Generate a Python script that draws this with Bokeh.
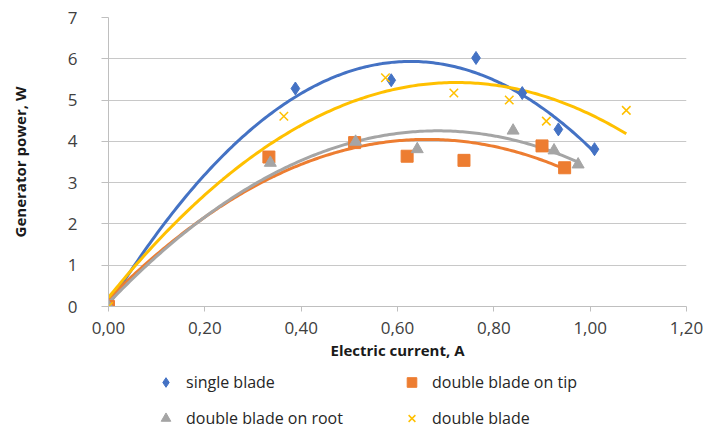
import numpy as np
from bokeh.plotting import figure
from bokeh.layouts import column
from bokeh.models import Range1d, FixedTicker, Legend, LegendItem
from bokeh.embed import file_html
from bokeh.resources import INLINE

# ---- data ----
single_x = [0.00, 0.388, 0.587, 0.763, 0.859, 0.934, 1.009]
single_y = [0.00, 5.28, 5.48, 6.02, 5.17, 4.29, 3.81]

tip_x = [0.00, 0.333, 0.511, 0.620, 0.738, 0.900, 0.947]
tip_y = [0.00, 3.62, 3.97, 3.64, 3.54, 3.89, 3.36]

root_x = [0.00, 0.336, 0.513, 0.641, 0.840, 0.925, 0.975]
root_y = [0.00, 3.48, 3.99, 3.81, 4.26, 3.78, 3.44]

double_x = [0.00, 0.364, 0.575, 0.717, 0.832, 0.909, 1.075]
double_y = [0.00, 4.61, 5.54, 5.17, 5.00, 4.49, 4.75]

x_ticks = [0.0, 0.2, 0.4, 0.6, 0.8, 1.0, 1.2]
x_tick_labels = ["0,00", "0,20", "0,40", "0,60", "0,80", "1,00", "1,20"]
y_ticks = [0, 1, 2, 3, 4, 5, 6, 7]

series = [
    ("single blade", single_x, single_y, "#4472C4", "diamond", 13),
    ("double blade on tip", tip_x, tip_y, "#ED7D31", "square", 12),
    ("double blade on root", root_x, root_y, "#A5A5A5", "triangle", 12),
    ("double blade", double_x, double_y, "#FFC000", "x", 12),
]

FONT = "Open Sans"

p = figure(width=705, height=368, output_backend="svg", toolbar_location=None,
           x_range=Range1d(0, 1.2), y_range=Range1d(0, 7),
           min_border_left=108, min_border_right=19, min_border_top=17,
           min_border_bottom=62)
p.outline_line_color = None
p.background_fill_color = "white"

p.xgrid.visible = False
p.ygrid.grid_line_color = "#C8C8C8"
p.ygrid.grid_line_width = 1

p.xaxis.ticker = FixedTicker(ticks=x_ticks)
p.xaxis.major_label_overrides = {t: l for t, l in zip(x_ticks, x_tick_labels)}
p.yaxis.ticker = FixedTicker(ticks=y_ticks)

for ax in (p.xaxis, p.yaxis):
    ax.axis_line_color = "#BFBFBF"
    ax.major_tick_line_color = "#BFBFBF"
    ax.minor_tick_line_color = None
    ax.major_tick_in = 0
    ax.major_label_text_font = FONT
    ax.major_label_text_font_size = "17px"
    ax.major_label_text_color = "#404040"
    ax.axis_label_text_font = FONT
    ax.axis_label_text_font_style = "bold"
    ax.axis_label_text_font_size = "15px"
    ax.axis_label_text_color = "#1a1a1a"

p.xaxis.major_tick_out = 5
p.xaxis.major_label_standoff = 10
p.xaxis.axis_label = "Electric current, A"
p.xaxis.axis_label_standoff = 3

p.yaxis.major_tick_out = 7
p.yaxis.major_label_standoff = 24
p.yaxis.axis_label = "Generator power, W"
p.yaxis.axis_label_standoff = 35

for name, xs, ys, color, marker, size in series:
    coef = np.polyfit(xs, ys, 2)
    xx = np.linspace(min(xs), max(xs), 200)
    p.line(xx, np.polyval(coef, xx), line_color=color, line_width=3)
for name, xs, ys, color, marker, size in series:
    if marker == "x":
        p.scatter(xs, ys, marker=marker, size=size, line_color=color, line_width=1.5)
    else:
        p.scatter(xs, ys, marker=marker, size=size, fill_color=color, line_color=color)

# ---- legend strip below the chart ----
lf = figure(width=705, height=62, output_backend="svg", toolbar_location=None,
            x_range=Range1d(0, 1), y_range=Range1d(0, 1),
            min_border=0, min_border_left=0, min_border_right=0,
            min_border_top=0, min_border_bottom=0)
lf.axis.visible = False
lf.grid.visible = False
lf.outline_line_color = None

renderers = {}
for name, xs, ys, color, marker, size in series:
    if marker == "x":
        r = lf.scatter([-5], [-5], marker=marker, size=size, line_color=color, line_width=1.5)
    else:
        r = lf.scatter([-5], [-5], marker=marker, size=size, fill_color=color, line_color=color)
    renderers[name] = r

order = ["single blade", "double blade on root", "double blade on tip", "double blade"]
items = [LegendItem(label=n, renderers=[renderers[n]]) for n in order]

legend = Legend(items=items, ncols=2, location=(44, 0),
                label_text_font=FONT, label_text_font_size="16px",
                label_text_color="#262626",
                glyph_width=27, glyph_height=24, label_height=24,
                label_width=200, label_standoff=7, spacing=12,
                padding=0, margin=0,
                border_line_color=None, background_fill_alpha=0)
lf.add_layout(legend, "center")

layout = column(p, lf, spacing=0)
open("out.html", "w").write(file_html(layout, INLINE))
